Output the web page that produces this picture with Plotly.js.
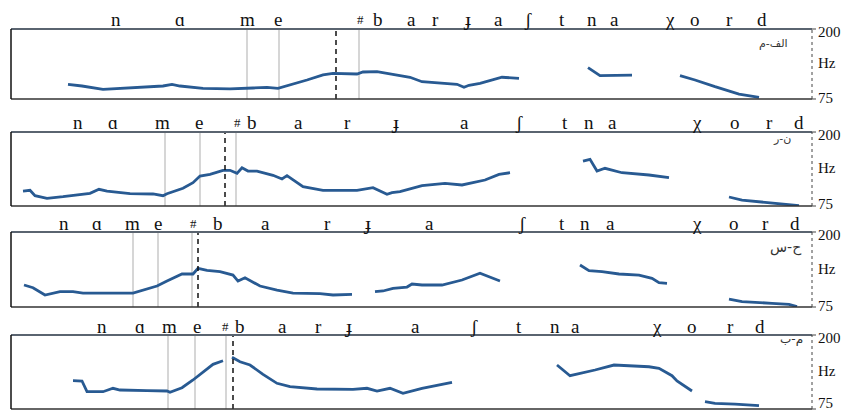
<!DOCTYPE html>
<html><head><meta charset="utf-8">
<script src="https://cdn.plot.ly/plotly-3.0.1.min.js"></script>
<style>body{margin:0;background:#fff}#chart{width:844px;height:410px}</style>
</head><body><div id="chart"></div>
<script>
// Phone labels (same utterance for all four speakers)
const phones = ["n","ɑ","m","e","#","b","a","r","ɟ","a","ʃ","t","n","a","χ","o","r","d"];
const speakers = ["الف-م","ن-ر","ح-س","م-ب"];

// Panel 1 (الف-م)
const p1Time = [68,82,103,133,163,172,180,203,230,253,267,278,290,307,323,333,357,363,377,393,410,422,439,457,464,469,480,502,519,null,588,600,632,null,680,695,715,739,759];
const p1F0   = [101.2,98.2,92.3,95.9,98.2,101.2,98.2,94.1,92.9,94.6,95.9,94.1,100,108.9,117.9,120.9,119.6,123.2,123.8,119.6,113.8,105.9,103,101.2,95.9,99.5,103,113.8,112,null,130.9,116.6,117.5,null,116.6,108.9,97,83.9,78];
const p1PhonePos = [116,180,247,278,360,378,411,435,467,498,528,562,592,614,670,695,729,762];
const p1Bounds = [247,279,359];
const p1Focus = [336];

// Panel 2 (ن-ر)
const p2Time = [23,30,35,47,63,90,99,107,130,153,163,167,183,193,200,210,223,230,237,242,248,257,273,282,287,303,323,357,373,380,387,392,400,422,445,462,485,499,510,null,583,590,597,605,622,649,669,null,729,742,765,782,799];
const p2F0   = [100.3,101.5,92.4,88,90.7,96.5,103.2,100.3,95.8,95.3,92.4,95.8,104.9,114.4,125.7,128.5,135.3,135.3,130.2,139.7,134.1,134.1,126.9,120.6,126.2,107.6,101.5,101.5,105.9,100.3,94.8,97.5,99.2,109.3,113.3,110.5,118.9,128.5,131.2,null,151,153.9,134.1,138.7,131.2,127.4,122.8,null,90.2,85.1,81.2,78.9,75.5];
const p2PhonePos = [78,113,162,199,237,252,298,347,395,464,519,565,589,612,697,735,769,799];
const p2Bounds = [165,200,236];
const p2Focus = [225];

// Panel 3 (ح-س)
const p3Time = [24,33,45,60,73,83,133,140,157,167,182,193,198,207,220,233,238,245,260,277,293,320,333,352,null,375,383,393,407,412,422,442,462,480,500,null,580,589,602,619,639,652,659,667,null,729,742,772,789,797];
const p3F0   = [111.7,107.2,95,100.5,100.5,98.3,98.3,101.7,110,118.3,130,130,139.5,136.2,133.8,128.3,118.3,123.8,110,103.3,98.3,97.2,95,96.2,null,100.5,101.7,106.2,108.3,113.3,111.7,111.7,120,131.2,118.3,null,145,135.5,133.8,130,128.3,122.8,115.5,114.5,null,88.3,83.8,81.2,79.5,75.5];
const p3PhonePos = [64,97,132,158,193,218,265,327,367,429,522,562,585,610,697,734,765,795];
const p3Bounds = [133,158,192];
const p3Focus = [198];

// Panel 4 (م-ب)
const p4Time = [73,82,87,103,113,120,147,167,170,182,193,203,213,223,null,232,240,250,263,277,290,317,333,353,367,377,390,403,422,439,452,null,557,570,595,614,649,659,672,677,692,null,705,715,735,759];
const p4F0   = [122.8,122.3,104.2,104.2,110,107.1,105.9,105.4,103.2,111,124,138,150.5,156.6,null,162.3,154.9,149.3,133.6,118.4,112.7,108.8,108.8,108.3,110,105.4,110,101.5,110,115.5,120.1,null,149.3,131.2,140.9,149.3,146.4,143.7,131.2,122.3,105.4,null,87.3,84.6,83.4,80.6];
const p4PhonePos = [102,140,169,197,225,240,282,318,348,415,474,519,555,575,657,692,730,760];
const p4Bounds = [168,195,226];
const p4Focus = [233];

const panels = [
  {t:p1Time,f:p1F0,pos:p1PhonePos,b:p1Bounds,foc:p1Focus,dom:[0.8158,1],shift:10,lo:1},
  {t:p2Time,f:p2F0,pos:p2PhonePos,b:p2Bounds,foc:p2Focus,dom:[0.5342,0.7289],shift:10,lo:2},
  {t:p3Time,f:p3F0,pos:p3PhonePos,b:p3Bounds,foc:p3Focus,dom:[0.2684,0.4658],shift:8,lo:1},
  {t:p4Time,f:p4F0,pos:p4PhonePos,b:p4Bounds,foc:p4Focus,dom:[0,0.1947],shift:9,lo:6}
];
const speakerPos = [[790,14,11],[793,6,11],[804,16,14],[805,4,12]];

const traces = [], shapes = [], annotations = [];
const layout = {
  width:844, height:410, margin:{l:11,r:32,t:29,b:1},
  paper_bgcolor:'#fff', plot_bgcolor:'rgba(0,0,0,0)', showlegend:false,
  shapes:shapes, annotations:annotations
};
const serif = 'Liberation Serif, DejaVu Serif, serif';
panels.forEach((p,i)=>{
  const n = i+1, sx = n===1?'':String(n);
  const xa = 'x'+sx, ya = 'y'+sx, yd = 'y'+sx+' domain';
  layout['xaxis'+sx] = {domain:[0,1], range:[11,812], anchor:ya, visible:false, fixedrange:true};
  layout['yaxis'+sx] = {domain:p.dom, range:[75,200], anchor:xa, visible:false, fixedrange:true};
  traces.push({type:'scatter', mode:'lines', x:p.t, y:p.f, xaxis:xa, yaxis:ya,
    connectgaps:false, line:{color:'#285a92', width:2.8}, hoverinfo:'skip'});
  p.b.forEach(v=>shapes.push({type:'line', xref:xa, yref:yd, x0:v, x1:v, y0:0, y1:1, line:{color:'#c8c8c8', width:1.5}, layer:'below'}));
  p.foc.forEach(v=>shapes.push({type:'line', xref:xa, yref:yd, x0:v, x1:v, y0:0, y1:1, line:{color:'#111', width:1.5, dash:'5px,4px'}}));
  // frame
  shapes.push({type:'line', xref:'paper', yref:yd, x0:0, x1:1, y0:1, y1:1, line:{color:'#5a6470', width:2}});
  shapes.push({type:'line', xref:'paper', yref:yd, x0:0, x1:1, y0:0, y1:0, line:{color:'#333', width:1.5}});
  shapes.push({type:'line', xref:'paper', yref:yd, x0:0, x1:0, y0:0, y1:1, line:{color:'#111', width:1.5}});
  shapes.push({type:'line', xref:'paper', yref:yd, x0:1, x1:1, y0:0, y1:1, line:{color:'#444', width:1, dash:'dot'}});
  shapes.push({type:'line', xref:'paper', yref:yd, x0:1, x1:1.005, y0:1, y1:1, line:{color:'#444', width:1}});
  shapes.push({type:'line', xref:'paper', yref:yd, x0:1, x1:1.005, y0:0, y1:0, line:{color:'#444', width:1}});
  phones.forEach((ph,k)=>annotations.push({text:ph, xref:xa, yref:yd, x:p.pos[k], y:1, yanchor:'middle', xanchor:'center',
    yshift:p.shift, showarrow:false, font:{family:serif, size:ph==='#'?13:19, color:'#111'}}));
  [['200',1,-3],['Hz',0.5,1],['75',0,p.lo]].forEach(l=>annotations.push({text:l[0], xref:'paper', yref:yd, x:1, y:l[1], xanchor:'left', xshift:4,
    yanchor:'middle', yshift:l[2], showarrow:false, font:{family:serif, size:15, color:'#111'}}));
  annotations.push({text:speakers[i], xref:'x'+sx, yref:yd, x:speakerPos[i][0], y:1, yshift:-speakerPos[i][1], xanchor:'right', yanchor:'middle',
    showarrow:false, font:{family:'DejaVu Sans, Noto Sans, sans-serif', size:speakerPos[i][2], color:'#333'}});
});
Plotly.newPlot('chart', traces, layout, {staticPlot:true});
</script></body></html>
